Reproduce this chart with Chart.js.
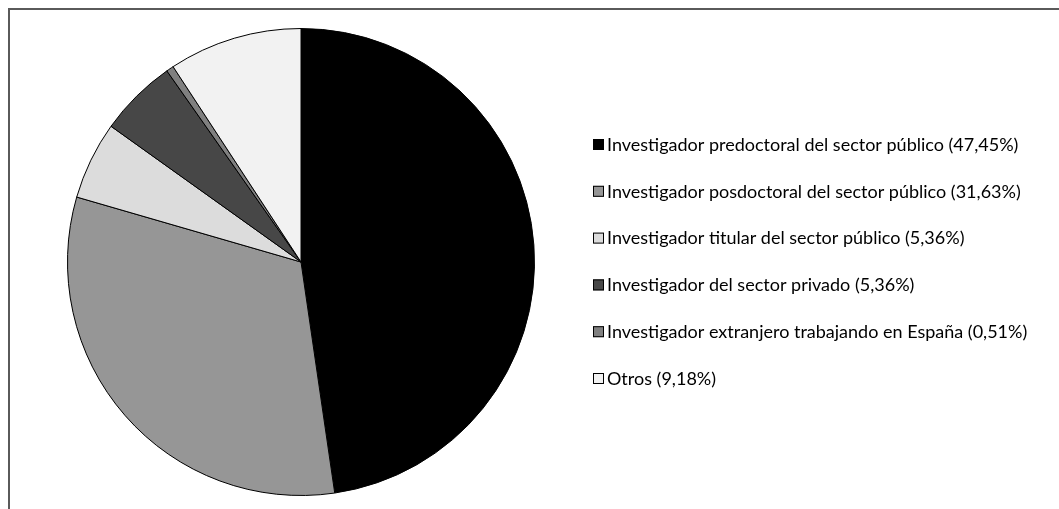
<!DOCTYPE html>
<html lang="es">
<head>
<meta charset="UTF-8">
<title>Investigadores</title>
<style>
  html, body { margin: 0; padding: 0; background: #fff; }
  #wrap { position: relative; width: 1059px; height: 509px; overflow: hidden; }
  #frame { position: absolute; left: 8px; top: 8px; width: 1060px; height: 520px;
           border-top: 2px solid #5a5a5a; border-left: 2px solid #5a5a5a; box-sizing: border-box; }
  #chart { position: absolute; left: 0; top: 0; }
</style>
</head>
<body>
<div id="wrap">
  <div id="frame"></div>
  <canvas id="chart" width="1059" height="509"></canvas>
</div>
<script src="https://cdn.jsdelivr.net/npm/chart.js"></script>
<script>
// categorias y valores (%)
const categories = [
  'Investigador predoctoral del sector público',
  'Investigador posdoctoral del sector público',
  'Investigador titular del sector público',
  'Investigador del sector privado',
  'Investigador extranjero trabajando en España',
  'Otros'
];
const values = [47.45, 31.63, 5.36, 5.36, 0.51, 9.18];
const valueLabels = ['47,45%', '31,63%', '5,36%', '5,36%', '0,51%', '9,18%'];
const colors = ['#000000', '#969696', '#dcdcdc', '#474747', '#808080', '#f2f2f2'];

// leyenda dibujada a mano a la derecha
const sideLegend = {
  id: 'sideLegend',
  afterDraw(chart) {
    const ctx = chart.ctx;
    ctx.save();
    ctx.font = '18px Lato';
    ctx.textBaseline = 'middle';
    categories.forEach((c, i) => {
      const y = 144 + i * 46.8;
      ctx.fillStyle = colors[i];
      ctx.fillRect(593, y - 5, 11, 11);
      ctx.strokeStyle = '#000';
      ctx.lineWidth = 1;
      ctx.strokeRect(593.5, y - 4.5, 10, 10);
      ctx.fillStyle = '#000';
      ctx.fillText(c + ' (' + valueLabels[i] + ')', 607, y + 1);
    });
    ctx.restore();
  }
};

new Chart(document.getElementById('chart'), {
  type: 'pie',
  data: {
    labels: categories,
    datasets: [{
      data: values,
      backgroundColor: colors,
      borderColor: '#000',
      borderWidth: 1
    }]
  },
  options: {
    responsive: false,
    animation: false,
    layout: { padding: { left: 67, right: 524, top: 28, bottom: 13 } },
    plugins: {
      legend: { display: false },
      tooltip: { enabled: false }
    }
  },
  plugins: [sideLegend]
});
</script>
</body>
</html>
